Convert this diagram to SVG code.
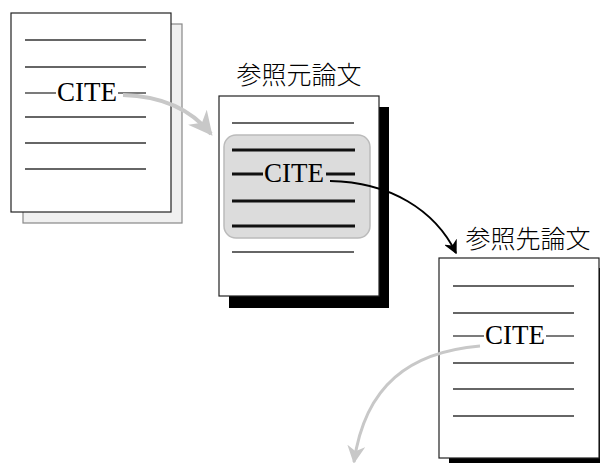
<svg xmlns="http://www.w3.org/2000/svg" width="600" height="463" viewBox="0 0 600 463">
<style>
.page{fill:#fff;stroke:#222;stroke-width:1.2}
.ln{stroke:#333;stroke-width:1.3}
.thick{stroke:#111;stroke-width:3}
.cite{font-family:"Liberation Serif",serif;font-size:27px;fill:#000;text-anchor:middle}
.title{font-family:"Noto Sans CJK JP","Noto Sans CJK SC",sans-serif;font-size:25px;font-weight:300;fill:#000;text-anchor:middle}
</style>
<defs>
<marker id="ag" viewBox="0 0 10 10" refX="9" refY="5" markerWidth="6" markerHeight="6" orient="auto" markerUnits="strokeWidth"><path d="M0,0 L10,5 L0,10 L3,5 Z" fill="#c8c8c8"/></marker>
<marker id="ab" viewBox="0 0 10 10" refX="9" refY="5" markerWidth="7" markerHeight="7" orient="auto" markerUnits="strokeWidth"><path d="M0,0 L10,5 L0,10 L3,5 Z" fill="#000"/></marker>
</defs>
<g id="doc1">
<rect x="23" y="24" width="159" height="199" fill="#f0f0f0" stroke="#888" stroke-width="1.2"/>
<rect class="page" x="11" y="13" width="160" height="199"/>
<line class="ln" x1="25" y1="40" x2="146" y2="40"/>
<line class="ln" x1="25" y1="67" x2="146" y2="67"/>
<line class="ln" x1="25" y1="93" x2="56" y2="93"/>
<line class="ln" x1="118" y1="93" x2="146" y2="93"/>
<line class="ln" x1="25" y1="117" x2="146" y2="117"/>
<line class="ln" x1="25" y1="143" x2="146" y2="143"/>
<line class="ln" x1="25" y1="169" x2="146" y2="169"/>
<text class="cite" x="87" y="101">CITE</text>
</g>
<g id="doc2">
<rect x="229" y="107" width="160" height="201" fill="#000"/>
<rect class="page" x="219" y="96" width="160" height="200"/>
<text class="title" x="299" y="84">参照元論文</text>
<line class="ln" x1="232" y1="123" x2="354" y2="123"/>
<rect x="224" y="135" width="146" height="103" rx="12" fill="#dcdcdc" stroke="#bbb" stroke-width="1.5"/>
<line class="thick" x1="232" y1="150" x2="355" y2="150"/>
<line class="thick" x1="232" y1="174" x2="263" y2="174"/>
<line class="thick" x1="326" y1="174" x2="355" y2="174"/>
<line class="thick" x1="232" y1="201" x2="355" y2="201"/>
<line class="thick" x1="232" y1="226" x2="355" y2="226"/>
<line class="ln" x1="232" y1="252" x2="354" y2="252"/>
<text class="cite" x="294" y="182">CITE</text>
</g>
<g id="doc3">
<rect x="449" y="268" width="160" height="195" fill="#000"/>
<rect class="page" x="439" y="258" width="160" height="200"/>
<text class="title" x="528" y="248">参照先論文</text>
<line class="ln" x1="453" y1="286" x2="574" y2="286"/>
<line class="ln" x1="453" y1="313" x2="574" y2="313"/>
<line class="ln" x1="453" y1="336" x2="484" y2="336"/>
<line class="ln" x1="546" y1="336" x2="574" y2="336"/>
<line class="ln" x1="453" y1="363" x2="574" y2="363"/>
<line class="ln" x1="453" y1="389" x2="574" y2="389"/>
<line class="ln" x1="453" y1="416" x2="574" y2="416"/>
<text class="cite" x="515" y="344">CITE</text>
</g>
<g id="connectors" fill="none">
<path d="M123,95 C160,96 190,108 211,134" stroke="#c8c8c8" stroke-width="4" marker-end="url(#ag)"/>
<path d="M330,181 C390,182 435,210 456,253" stroke="#000" stroke-width="2" marker-end="url(#ab)"/>
<path d="M480,346 C410,352 365,385 354,462" stroke="#c8c8c8" stroke-width="3" marker-end="url(#ag)"/>
</g>
</svg>
